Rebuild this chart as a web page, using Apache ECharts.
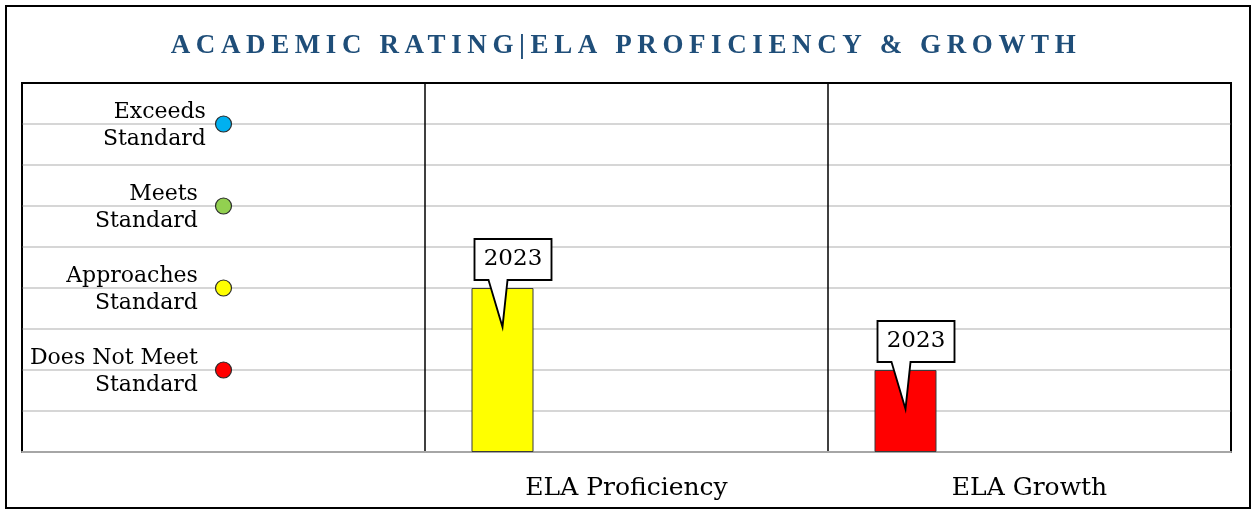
<!DOCTYPE html>
<html><head><meta charset="utf-8">
<script src="https://cdn.jsdelivr.net/npm/echarts@6/dist/echarts.min.js"></script>
<style>html,body{margin:0;padding:0;background:#fff}#c{width:1252px;height:510px}</style>
</head><body><div id="c"></div>
<script>
// ---- data ----
const TITLE = 'ACADEMIC RATING|ELA PROFICIENCY & GROWTH';
const categories = ['', 'ELA Proficiency', 'ELA Growth'];
const ratingLevels = ['Exceeds\nStandard', 'Meets\nStandard', 'Approaches\nStandard', 'Does Not Meet\nStandard'];
const ratingValues = [8, 6, 4, 2];
const ratingColors = ['#00B0F0', '#92D050', '#FFFF00', '#FF0000'];
const seriesNames = ['2023', '', ''];
const values2023 = [null, 4, 2];
const barColors2023 = [null, '#FFFF00', '#FF0000'];
const emptySlot = [null, null, null];
const yMin = 0, yMax = 9, yInterval = 1;

// ---- style ----
const labelGap = [9, 17, 17, 17];
const SERIF = '"DejaVu Serif", serif';

// letter-spaced title (keeps real text)
const _fill = CanvasRenderingContext2D.prototype.fillText;
CanvasRenderingContext2D.prototype.fillText = function (t) {
  if (t === TITLE && 'letterSpacing' in this) {
    const prev = this.letterSpacing;
    this.letterSpacing = '5.6px';
    _fill.apply(this, arguments);
    this.letterSpacing = prev;
    return;
  }
  return _fill.apply(this, arguments);
};

const chart = echarts.init(document.getElementById('c'), null, {renderer: 'canvas'});
const calloutPath = 'path://M0 0 L77 0 L77 41 L33 41 L28 88 L14 41 L0 41 Z';

chart.setOption({
  animation: false,
  backgroundColor: '#fff',
  title: {
    text: TITLE, left: 'center', top: 33, padding: 0,
    textStyle: {fontFamily: '"Liberation Serif", serif', fontWeight: 'bold', fontSize: 27, color: '#1F4E79'}
  },
  graphic: [{
    type: 'rect', shape: {x: 6, y: 6, width: 1244, height: 502},
    style: {fill: 'none', stroke: '#000', lineWidth: 2}, silent: true, z: 100
  }],
  grid: {left: 22, right: 21, top: 83, bottom: 58, show: true, borderColor: '#000', borderWidth: 2, backgroundColor: 'transparent'},
  xAxis: {
    type: 'category', data: categories,
    axisTick: {show: false},
    axisLine: {show: true, lineStyle: {color: '#a6a6a6', width: 2}},
    splitLine: {show: true, interval: 0, lineStyle: {color: '#000', width: 1.5}},
    axisLabel: {interval: 0, margin: 24, fontFamily: SERIF, fontSize: 25, color: '#000'}
  },
  yAxis: {
    type: 'value', min: yMin, max: yMax, interval: yInterval,
    axisLabel: {show: false}, axisLine: {show: false}, axisTick: {show: false},
    splitLine: {show: true, showMaxLine: false, lineStyle: {color: '#c8c8c8', width: 1.5}}
  },
  series: [
    {
      type: 'bar', name: seriesNames[0], barWidth: 62, barGap: '100%', z: 3,
      data: values2023.map((v, i) => v == null ? null : {value: v, itemStyle: {color: barColors2023[i]}}),
      itemStyle: {borderColor: '#3a3a3a', borderWidth: 1},
      markPoint: {
        symbol: calloutPath, symbolSize: [77, 88], symbolOffset: [10.5, -5],
        symbolKeepAspect: false,
        itemStyle: {color: '#fff', borderColor: '#000', borderWidth: 2},
        label: {show: true, formatter: '{a}', position: 'inside', offset: [0, -23.5],
                color: '#000', fontFamily: SERIF, fontSize: 23},
        data: values2023.map((v, i) => v == null ? null : {coord: [i, v]}).filter(d => d)
      }
    },
    {type: 'bar', name: seriesNames[1], barWidth: 62, data: emptySlot},
    {type: 'bar', name: seriesNames[2], barWidth: 62, data: emptySlot},
    {
      type: 'scatter', symbolSize: 16, z: 4,
      data: ratingValues.map((v, i) => ({value: [0, v], itemStyle: {color: ratingColors[i]}, label: {distance: labelGap[i]}})),
      itemStyle: {borderColor: '#2b2b2b', borderWidth: 1.2, opacity: 1},
      label: {show: true, position: 'left', align: 'right', formatter: p => ratingLevels[p.dataIndex],
              offset: [0, 2], fontFamily: SERIF, fontSize: 22, lineHeight: 27, color: '#000'}
    }
  ]
});
</script></body></html>
